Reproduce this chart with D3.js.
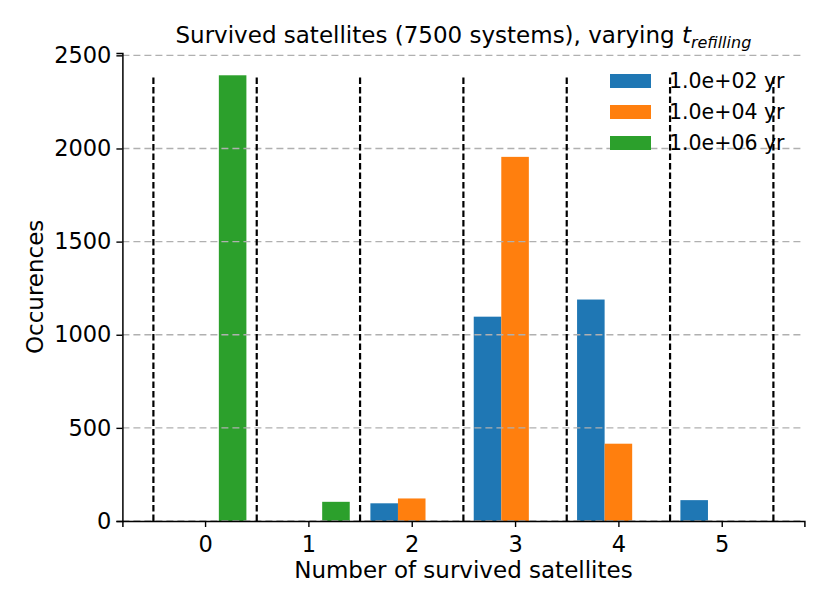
<!DOCTYPE html>
<html>
<head>
<meta charset="utf-8">
<script src="https://cdn.jsdelivr.net/npm/d3@7"></script>
<style>
  body { margin: 0; background: #fff; }
  svg text { font-family: "DejaVu Sans", sans-serif; fill: #000; }
</style>
</head>
<body>
<svg id="chart"></svg>
<script>
const width = 830, height = 609;

// number of survived satellites (bin centres)
const categories = [0, 1, 2, 3, 4, 5];
const seriesLabels = ["1.0e+02 yr", "1.0e+04 yr", "1.0e+06 yr"];
const counts1e2 = [0, 0, 95, 1097, 1189, 112];
const counts1e4 = [0, 0, 121, 1955, 415, 0];
const counts1e6 = [2393, 103, 0, 0, 0, 0];
const yTicks = [0, 500, 1000, 1500, 2000, 2500];
const colors = ["#1f77b4", "#ff7f0e", "#2ca02c"];

const series = [counts1e2, counts1e4, counts1e6];
const maxVal = d3.max(series.flat());

const margin = { left: 122.4, right: width - 804.4, top: 53, bottom: height - 521 };

const svg = d3.select("#chart").attr("width", width).attr("height", height);

const x = d3.scaleLinear()
    .domain([-0.8, 5.8])
    .range([margin.left, width - margin.right]);

const y = d3.scaleLinear()
    .domain([0, maxVal * 1.05])
    .range([height - margin.bottom, margin.top]);

// histogram layout: 3 datasets share 0.8 of each bin
const barW = 0.8 / series.length;

series.forEach((vals, si) => {
    svg.append("g")
       .selectAll("rect")
       .data(vals.map((v, i) => ({ c: categories[i], v })))
       .enter()
       .append("rect")
       .attr("x", d => x(d.c - 0.4 + si * barW))
       .attr("width", d => x(d.c - 0.4 + (si + 1) * barW) - x(d.c - 0.4 + si * barW))
       .attr("y", d => y(d.v))
       .attr("height", d => y(0) - y(d.v))
       .attr("fill", colors[si]);
});

// horizontal grid
svg.append("g")
   .selectAll("line")
   .data(yTicks)
   .enter()
   .append("line")
   .attr("x1", x(-0.8))
   .attr("x2", x(5.8))
   .attr("y1", d => y(d))
   .attr("y2", d => y(d))
   .attr("stroke", "#b0b0b0")
   .attr("stroke-width", 1.3)
   .attr("stroke-dasharray", "7,4");

// bin edges
const edges = d3.range(-0.5, 6, 1);
svg.append("g")
   .selectAll("line")
   .data(edges)
   .enter()
   .append("line")
   .attr("x1", d => x(d))
   .attr("x2", d => x(d))
   .attr("y1", y(0))
   .attr("y2", y(maxVal))
   .attr("stroke", "#000")
   .attr("stroke-width", 2.2)
   .attr("stroke-dasharray", "6.5,3");

// axes
const xAxis = svg.append("g")
    .attr("transform", `translate(0,${y(0)})`)
    .call(d3.axisBottom(x).tickValues(categories).tickSize(6).tickPadding(9).tickFormat(d3.format("d")));

const yAxis = svg.append("g")
    .attr("transform", `translate(${margin.left},0)`)
    .call(d3.axisLeft(y).tickValues(yTicks).tickSize(6).tickPadding(5).tickFormat(d3.format("d")));

[xAxis, yAxis].forEach(g => {
    g.select(".domain").attr("stroke", "#000").attr("stroke-width", 1.5);
    g.selectAll(".tick line").attr("stroke", "#000").attr("stroke-width", 1.4);
    g.selectAll(".tick text").style("font-size", "22.5px").style("font-family", "DejaVu Sans");
});

// axis labels
svg.append("text")
   .attr("x", x(2.5))
   .attr("y", 578)
   .attr("text-anchor", "middle")
   .style("font-size", "23px")
   .text("Number of survived satellites");

svg.append("text")
   .attr("transform", `translate(43,${y(1257)}) rotate(-90)`)
   .attr("text-anchor", "middle")
   .style("font-size", "23px")
   .text("Occurences");

// title
const title = svg.append("text")
   .attr("x", x(2.5))
   .attr("y", 43)
   .attr("text-anchor", "middle")
   .style("font-size", "23px");
title.append("tspan").text("Survived satellites (7500 systems), varying ");
title.append("tspan").style("font-style", "italic").text("t");
title.append("tspan").style("font-style", "italic").style("font-size", "16px")
     .attr("dy", 5).text("refilling");

// legend
const legend = svg.append("g").attr("transform", "translate(610,81)");
seriesLabels.forEach((lab, i) => {
    const row = legend.append("g").attr("transform", `translate(0,${i * 31})`);
    row.append("rect")
       .attr("x", 0).attr("y", -7)
       .attr("width", 41).attr("height", 14)
       .attr("fill", colors[i]);
    row.append("text")
       .attr("x", 59).attr("y", 0)
       .attr("dy", "0.35em")
       .style("font-size", "20.5px")
       .text(lab);
});
</script>
</body>
</html>
